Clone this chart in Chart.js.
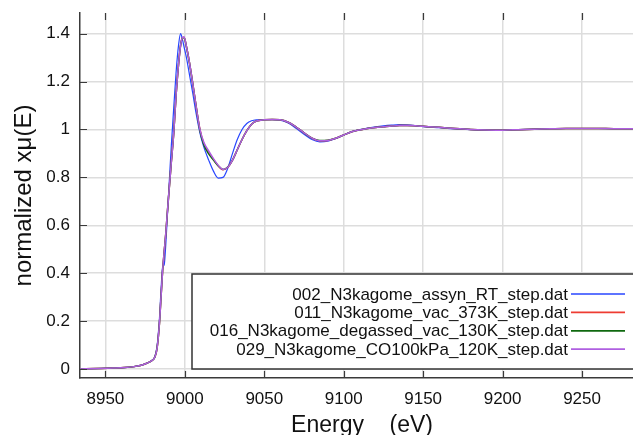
<!DOCTYPE html>
<html>
<head>
<meta charset="utf-8">
<script src="https://cdn.jsdelivr.net/npm/chart.js@4"></script>
<style>
  body { margin: 0; background: #fff; }
  #wrap { width: 633px; height: 435px; overflow: hidden; }
</style>
</head>
<body>
<div id="wrap"><canvas id="xanes" width="644" height="435"></canvas></div>
<script>
// energy grid (eV) shared by all scans
const energy = [8934, 8945, 8955, 8962, 8968, 8972, 8976, 8979, 8981, 8982.5,
  8984, 8985, 8986, 8987, 8988, 8989, 8990, 8991.5, 8993, 8994.5,
  8996, 8997.3, 8998.5, 8999.5, 9001, 9003, 9005, 9007, 9009.5, 9012,
  9015, 9018, 9021, 9024, 9027, 9030, 9033, 9036, 9039, 9042,
  9045, 9050, 9055, 9060, 9065, 9070, 9075, 9080, 9085, 9090,
  9095, 9100, 9105, 9110, 9115, 9120, 9125, 9130, 9135, 9140,
  9145, 9150, 9160, 9170, 9180, 9190, 9200, 9210, 9220, 9230,
  9240, 9250, 9260, 9270, 9289];

const assynRT = [0.000, 0.002, 0.004, 0.006, 0.010, 0.015, 0.024, 0.035, 0.050, 0.095,
  0.21, 0.33, 0.425, 0.435, 0.52, 0.64, 0.76, 0.935, 1.09, 1.24,
  1.35, 1.400, 1.375, 1.345, 1.30, 1.225, 1.15, 1.07, 0.985, 0.925,
  0.872, 0.826, 0.797, 0.800, 0.838, 0.900, 0.958, 1.000, 1.025, 1.036,
  1.040, 1.041, 1.041, 1.039, 1.027, 1.005, 0.980, 0.958, 0.948, 0.951,
  0.962, 0.977, 0.991, 0.999, 1.006, 1.011, 1.015, 1.018, 1.020, 1.019,
  1.016, 1.012, 1.007, 1.002, 0.999, 0.997, 0.997, 0.999, 1.001, 1.003,
  1.004, 1.004, 1.004, 1.003, 1.003];

const vac373K = [0.000, 0.002, 0.004, 0.006, 0.010, 0.015, 0.024, 0.034, 0.048, 0.085,
  0.19, 0.30, 0.41, 0.49, 0.565, 0.655, 0.74, 0.865, 0.985, 1.145,
  1.27, 1.35, 1.383, 1.385, 1.345, 1.275, 1.19, 1.10, 1.00, 0.94,
  0.905, 0.875, 0.848, 0.832, 0.842, 0.872, 0.915, 0.958, 0.995, 1.022,
  1.035, 1.040, 1.041, 1.040, 1.030, 1.010, 0.986, 0.964, 0.953, 0.954,
  0.963, 0.977, 0.990, 0.998, 1.004, 1.008, 1.011, 1.014, 1.016, 1.016,
  1.015, 1.013, 1.009, 1.004, 1.000, 0.998, 0.997, 0.999, 1.001, 1.003,
  1.004, 1.004, 1.004, 1.003, 1.003];

const degassed130K = [0.000, 0.002, 0.004, 0.006, 0.010, 0.015, 0.024, 0.034, 0.048, 0.087,
  0.19, 0.30, 0.41, 0.49, 0.565, 0.655, 0.74, 0.865, 0.985, 1.145,
  1.27, 1.35, 1.382, 1.384, 1.345, 1.275, 1.19, 1.10, 0.995, 0.935,
  0.898, 0.872, 0.848, 0.833, 0.843, 0.872, 0.915, 0.958, 0.995, 1.022,
  1.035, 1.040, 1.041, 1.040, 1.030, 1.010, 0.986, 0.964, 0.954, 0.955,
  0.963, 0.977, 0.990, 0.998, 1.004, 1.008, 1.011, 1.014, 1.016, 1.016,
  1.015, 1.013, 1.009, 1.004, 1.000, 0.998, 0.997, 0.999, 1.001, 1.003,
  1.004, 1.004, 1.004, 1.003, 1.003];

const co100kPa120K = [0.000, 0.002, 0.004, 0.006, 0.010, 0.015, 0.024, 0.034, 0.048, 0.086,
  0.19, 0.30, 0.41, 0.49, 0.565, 0.655, 0.74, 0.865, 0.985, 1.145,
  1.27, 1.35, 1.383, 1.386, 1.346, 1.276, 1.19, 1.10, 1.00, 0.945,
  0.91, 0.878, 0.850, 0.833, 0.842, 0.872, 0.915, 0.958, 0.995, 1.022,
  1.035, 1.040, 1.041, 1.040, 1.030, 1.010, 0.986, 0.964, 0.953, 0.954,
  0.963, 0.977, 0.990, 0.998, 1.004, 1.008, 1.011, 1.014, 1.016, 1.016,
  1.015, 1.013, 1.009, 1.004, 1.000, 0.998, 0.997, 0.999, 1.001, 1.003,
  1.004, 1.004, 1.004, 1.003, 1.003];

const seriesNames = ['002_N3kagome_assyn_RT_step.dat', '011_N3kagome_vac_373K_step.dat',
  '016_N3kagome_degassed_vac_130K_step.dat', '029_N3kagome_CO100kPa_120K_step.dat'];
const seriesValues = [assynRT, vac373K, degassed130K, co100kPa120K];
const seriesColors = ['rgb(40,70,255)', 'rgb(238,60,50)', 'rgb(15,105,15)', 'rgb(175,95,225)'];
const seriesWidths = [1.2, 1.5, 1.5, 1.5];
const seriesOrder = [3, 2, 1, 0];

const xTicks = [8950, 9000, 9050, 9100, 9150, 9200, 9250];
const xTickLabels = ['8950', '9000', '9050', '9100', '9150', '9200', '9250'];
const yTicks = [0, 0.2, 0.4, 0.6, 0.8, 1, 1.2, 1.4];
const yTickLabels = ['0', '0.2', '0.4', '0.6', '0.8', '1', '1.2', '1.4'];

const FONT = "'Liberation Sans', Arial, sans-serif";

// inside tick marks (bottom/top and left), like the original plot
const innerTicks = {
  id: 'innerTicks',
  afterDraw(chart) {
    const {ctx, chartArea: a, scales: {x, y}} = chart;
    ctx.save();
    ctx.strokeStyle = '#3a3a3a';
    ctx.lineWidth = 1.2;
    ctx.beginPath();
    xTicks.forEach(v => {
      const px = Math.round(x.getPixelForValue(v)) + 0.5;
      ctx.moveTo(px, a.bottom); ctx.lineTo(px, a.bottom - 7);
      ctx.moveTo(px, a.top); ctx.lineTo(px, a.top + 7);
    });
    yTicks.forEach(v => {
      const py = Math.round(y.getPixelForValue(v)) + 0.5;
      ctx.moveTo(a.left, py); ctx.lineTo(a.left + 7, py);
    });
    ctx.stroke();
    ctx.restore();
  }
};

// boxed legend in the lower right of the plot
const boxLegend = {
  id: 'boxLegend',
  afterDraw(chart) {
    const {ctx, chartArea: a} = chart;
    const left = a.left + 112, top = a.bottom - 104, bottom = a.bottom - 9;
    ctx.save();
    ctx.fillStyle = '#fff';
    ctx.fillRect(left, top, a.right - left - 4, bottom - top);
    ctx.strokeStyle = '#333';
    ctx.lineWidth = 1.5;
    ctx.strokeRect(left, top, a.right - left - 4, bottom - top);
    ctx.font = '17px ' + FONT;
    ctx.textAlign = 'right';
    ctx.textBaseline = 'alphabetic';
    seriesNames.forEach((name, i) => {
      const base = top + 25.5 + i * 18.4;
      ctx.fillStyle = '#111';
      ctx.fillText(name, 568, base);
      ctx.strokeStyle = seriesColors[i];
      ctx.lineWidth = i === 0 ? 1.3 : 1.8;
      ctx.beginPath();
      ctx.moveTo(571, base - 5.5);
      ctx.lineTo(625, base - 5.5);
      ctx.stroke();
    });
    ctx.restore();
  }
};

const datasets = seriesNames.map((name, i) => ({
  label: name,
  data: energy.map((e, k) => ({x: e, y: seriesValues[i][k]})),
  borderColor: seriesColors[i],
  borderWidth: seriesWidths[i],
  pointRadius: 0,
  cubicInterpolationMode: 'monotone',
  order: seriesOrder[i]
}));

new Chart(document.getElementById('xanes'), {
  type: 'line',
  data: { datasets },
  options: {
    responsive: false,
    animation: false,
    layout: { padding: { top: 13, right: 0, left: 0, bottom: 0 } },
    plugins: { legend: { display: false }, tooltip: { enabled: false } },
    scales: {
      x: {
        type: 'linear',
        min: 8934,
        max: 9289,
        afterBuildTicks: s => { s.ticks = xTicks.map(v => ({value: v})); },
        afterFit: s => { s.height = 57; s.paddingLeft = 0; s.paddingRight = 0; },
        grid: { color: '#dddddd', lineWidth: 1.5, drawTicks: false },
        border: { color: '#3a3a3a', width: 1.5 },
        ticks: {
          color: '#111',
          font: { family: FONT, size: 17 },
          padding: 11,
          maxRotation: 0,
          callback: (v, idx) => xTickLabels[idx]
        },
        title: {
          display: true,
          text: 'Energy    (eV)',
          color: '#111',
          font: { family: FONT, size: 23, lineHeight: 0.8 },
          padding: 0
        }
      },
      y: {
        type: 'linear',
        min: -0.0375,
        max: 1.486,
        afterBuildTicks: s => { s.ticks = yTicks.map(v => ({value: v})); },
        afterFit: s => { s.width = 80; s.paddingTop = 0; s.paddingBottom = 0; },
        grid: { color: '#dddddd', lineWidth: 1.5, drawTicks: false },
        border: { color: '#3a3a3a', width: 1.5 },
        ticks: {
          color: '#111',
          font: { family: FONT, size: 17 },
          padding: 10,
          callback: (v, idx) => yTickLabels[idx]
        },
        title: {
          display: true,
          text: 'normalized x\u03bc(E)',
          color: '#111',
          font: { family: FONT, size: 24 },
          padding: { top: 10 }
        }
      }
    }
  },
  plugins: [innerTicks, boxLegend]
});
</script>
</body>
</html>
